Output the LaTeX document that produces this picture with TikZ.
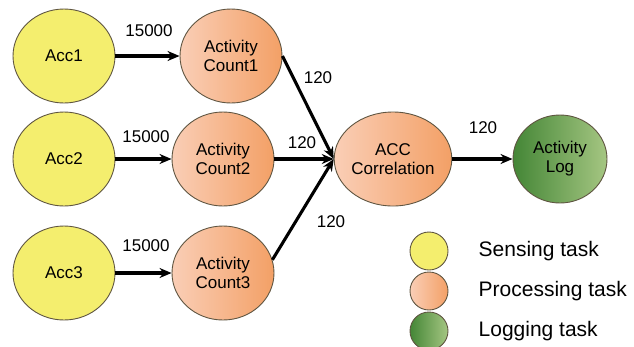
\documentclass[tikz,border=0pt]{standalone}
\usepackage{fontspec}
\setmainfont{Liberation Sans}
\usetikzlibrary{shapes.geometric,arrows.meta,positioning}

\definecolor{sensefill}{RGB}{244,238,110}
\definecolor{procpale}{RGB}{250,206,182}
\definecolor{procdeep}{RGB}{243,160,102}
\definecolor{logdeep}{RGB}{68,134,54}
\definecolor{logpale}{RGB}{165,198,130}
\definecolor{rim}{RGB}{95,85,65}

\begin{document}
\begin{tikzpicture}[x=1pt,y=-1pt]
					\tikzset{>={Stealth[length=12pt,width=10pt]}}
					\tikzset{task/.style={ellipse,draw=rim,line width=0.9pt,inner sep=0pt,align=center,minimum width=102pt,minimum height=94pt,font=\fontsize{17}{19}\selectfont},
						sensing/.style={task,fill=sensefill},
						processing/.style={task,left color=procpale,right color=procdeep},
						logging/.style={task,left color=logdeep,right color=logpale},
						rate/.style={inner sep=0pt,font=\fontsize{17}{19}\selectfont},
						keydot/.style={circle,minimum width=38pt,minimum height=38pt},
						legtext/.style={inner sep=0pt,font=\fontsize{21}{23}\selectfont},
						flow/.style={->,line width=3.1pt}}
					\clip (0,0) rectangle (634,346);
					\node[sensing] (acc1) at (64,56) {Acc1};
					\node[sensing] (acc2) at (64,159) {Acc2};
					\node[sensing] (acc3) at (64,273) {Acc3};
					\node[processing] (cnt1) at (231,56) {Activity\\Count1};
					\node[processing] (cnt2) at (223,159) {Activity\\Count2};
					\node[processing] (cnt3) at (223,273) {Activity\\Count3};
					\node[processing,minimum width=94pt] (corr) at (393,159) {ACC\\Correlation};
					\node[logging,minimum width=94pt,minimum height=88pt] (log) at (560,159) {Activity\\Log};
					\draw[flow] (acc1) -- (cnt1);
					\draw[flow] (acc2) -- (cnt2);
					\draw[flow] (acc3) -- (cnt3);
					\draw[flow] (cnt1.east) -- (corr.west);
					\draw[flow] (cnt2) -- (corr);
					\draw[flow] (cnt3.15) -- (corr.west);
					\draw[flow] (corr) -- (log);
					\node[rate] (r1) at (149,31) {15000};
					\node[rate] (r2) at (146,137) {15000};
					\node[rate] (r3) at (146,246) {15000};
					\node[rate] (r4) at (318,78) {120};
					\node[rate] (r5) at (302,143) {120};
					\node[rate] (r6) at (331,222) {120};
					\node[rate] (r7) at (483,128) {120};
					\node[sensing,keydot] (k1) at (429,251) {};
					\node[processing,keydot] (k2) at (429,291) {};
					\node[logging,keydot] (k3) at (429,331) {};
					\node[legtext,right=30pt of k1] (t1) {Sensing task};
					\node[legtext,right=30pt of k2] (t2) {Processing task};
					\node[legtext,right=30pt of k3] (t3) {Logging task};
				\end{tikzpicture}
\end{document}
